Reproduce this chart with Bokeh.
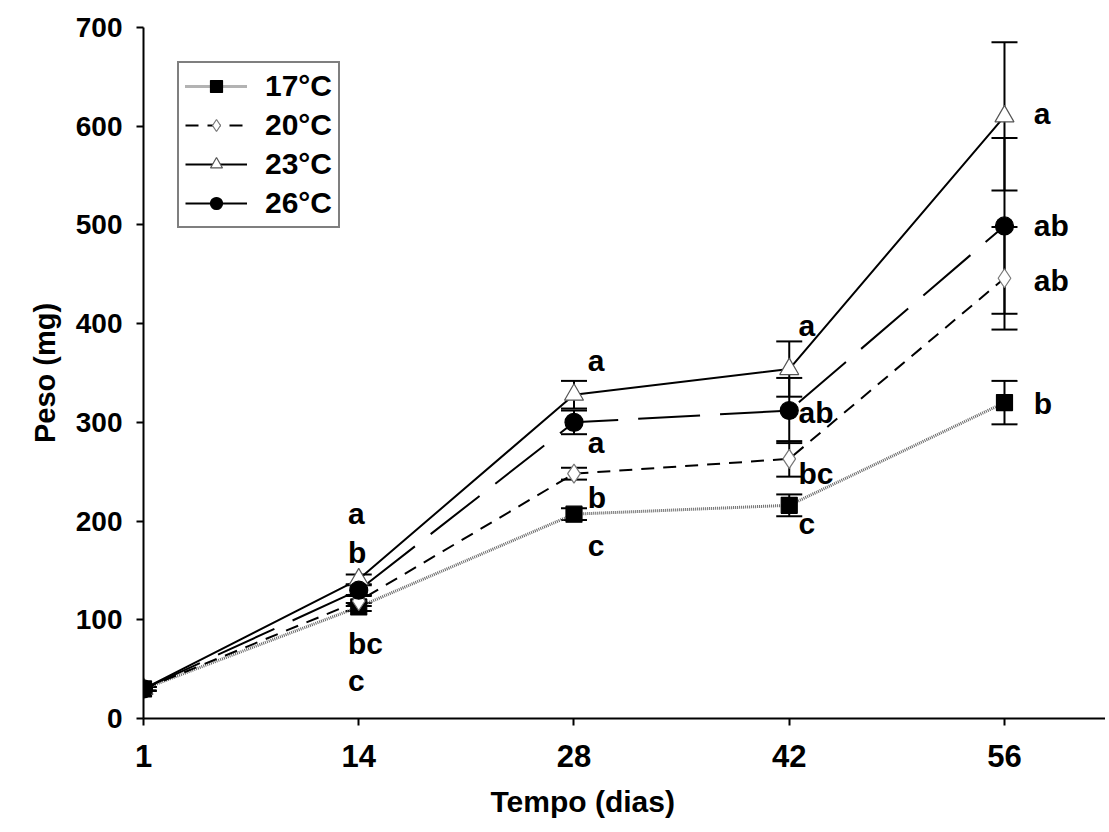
from bokeh.plotting import figure
from bokeh.models import (ColumnDataSource, Whisker, TeeHead, Legend, LegendItem,
                          FixedTicker, Title)
from bokeh.core.properties import value
from bokeh.embed import file_html
from bokeh.resources import INLINE

# ---------------- data ----------------
# sampling days (first sample labelled "1" sits at the axis origin)
x_pos = [0, 14, 28, 42, 56]
x_labels = ["1", "14", "28", "42", "56"]
y_ticks = [0, 100, 200, 300, 400, 500, 600, 700]

series_names = ["17°C", "20°C", "23°C", "26°C"]
mean_17 = [30, 113, 207, 216, 320]
err_17 = [2, 4, 6, 11, 22]
mean_20 = [30, 119, 248, 263, 446]
err_20 = [2, 5, 6, 18, 52]
mean_23 = [30, 141, 328, 354, 610]
err_23 = [2, 5, 14, 28, 75]
mean_26 = [30, 130, 300, 312, 499]
err_26 = [2, 5, 12, 33, 89]

# significance letters
letters = ["a", "b", "bc", "c",
           "a", "a", "b", "c",
           "a", "ab", "bc", "c",
           "a", "ab", "ab", "b"]
letter_x = [13.3, 13.3, 13.3, 13.3,
            28.9, 28.9, 28.9, 28.9,
            42.6, 42.6, 42.6, 42.6,
            57.9, 57.9, 57.9, 57.9]
letter_y = [208, 168, 76, 38,
            363, 280, 224, 175,
            398, 310, 248, 198,
            613, 499, 444, 319]

FONT = "Liberation Sans"

p = figure(width=1105, height=832, x_range=(0, 62.57), y_range=(0, 700),
           output_backend="svg", toolbar_location=None,
           min_border_left=143, min_border_top=27, min_border_right=0,
           min_border_bottom=114)
p.outline_line_color = None
p.xgrid.visible = False
p.ygrid.visible = False
p.background_fill_color = "white"

styles = [
    dict(color="#666666", dash="1 1", lw=3, marker="square", size=16,
         fill="black", mline="black"),
    dict(color="black", dash="13 9", lw=2, marker="diamond", size=19,
         fill="white", mline="#777777"),
    dict(color="black", dash="solid", lw=2, marker="triangle", size=19,
         fill="white", mline="#555555"),
    dict(color="black", dash="62 20", lw=2, marker="circle", size=18,
         fill="black", mline="black"),
]
means = [mean_17, mean_20, mean_23, mean_26]
errs = [err_17, err_20, err_23, err_26]

sources = []
for m, e in zip(means, errs):
    sources.append(ColumnDataSource(dict(
        x=x_pos, y=m,
        upper=[a + b for a, b in zip(m, e)],
        lower=[a - b for a, b in zip(m, e)])))

# error bars
for src in sources:
    w = Whisker(source=src, base="x", upper="upper", lower="lower",
                line_color="black", line_width=2,
                upper_head=TeeHead(size=26, line_width=2, line_color="black"),
                lower_head=TeeHead(size=26, line_width=2, line_color="black"))
    w.level = "underlay"
    p.add_layout(w)

line_rs = []
for src, st in zip(sources, styles):
    lr = p.line("x", "y", source=src, line_color=st["color"],
                line_dash=st["dash"], line_width=st["lw"])
    line_rs.append(lr)
marker_rs = []
for src, st in zip(sources, styles):
    mr = p.scatter("x", "y", source=src, marker=st["marker"], size=st["size"],
                   fill_color=st["fill"], line_color=st["mline"], line_width=1.2)
    marker_rs.append(mr)
items = [LegendItem(label=name, renderers=[lr, mr])
         for name, lr, mr in zip(series_names, line_rs, marker_rs)]

legend = Legend(items=items, location="top_left", margin=34,
                border_line_color="black", border_line_width=2,
                background_fill_color="white", background_fill_alpha=1,
                padding=6, spacing=5, glyph_height=30, glyph_width=62,
                label_height=30, label_standoff=18,
                label_text_font=FONT, label_text_font_style="bold",
                label_text_font_size="30px", label_text_color="black")
p.add_layout(legend)

# letters
lsrc = ColumnDataSource(dict(x=letter_x, y=letter_y, t=letters))
p.text("x", "y", text="t", source=lsrc, text_font=value(FONT),
       text_font_style="bold", text_font_size="30px", text_color="black",
       text_align="left", text_baseline="middle")

# axes
for ax in (p.xaxis, p.yaxis):
    ax.axis_line_width = 2
    ax.axis_line_color = "black"
    ax.major_tick_line_width = 2
    ax.major_tick_line_color = "black"
    ax.major_tick_out = 7
    ax.major_tick_in = 0
    ax.minor_tick_out = 0
    ax.minor_tick_in = 0
    ax.major_label_text_color = "black"
    ax.major_label_text_font_style = "bold"

p.xaxis.ticker = FixedTicker(ticks=x_pos)
p.xaxis.major_label_overrides = {xv: lab for xv, lab in zip(x_pos, x_labels)}
p.xaxis.major_label_text_font = FONT
p.xaxis.major_label_text_font_size = "31px"
p.xaxis.major_label_standoff = 19

p.yaxis.ticker = FixedTicker(ticks=y_ticks)
p.yaxis.major_label_text_font = FONT
p.yaxis.major_label_text_font_size = "28px"
p.yaxis.major_label_standoff = 14
p.yaxis.axis_label = "Peso (mg)"
p.yaxis.axis_label_text_font = FONT
p.yaxis.axis_label_text_font_style = "bold"
p.yaxis.axis_label_text_font_size = "29px"
p.yaxis.axis_label_text_color = "black"
p.yaxis.axis_label_standoff = 12

xt = Title(text="Tempo (dias)", align="left", offset=347,
           text_font=FONT, text_font_style="bold", text_font_size="30px",
           text_color="black", standoff=26)
p.add_layout(xt, "below")

open("out.html", "w").write(file_html(p, INLINE))
